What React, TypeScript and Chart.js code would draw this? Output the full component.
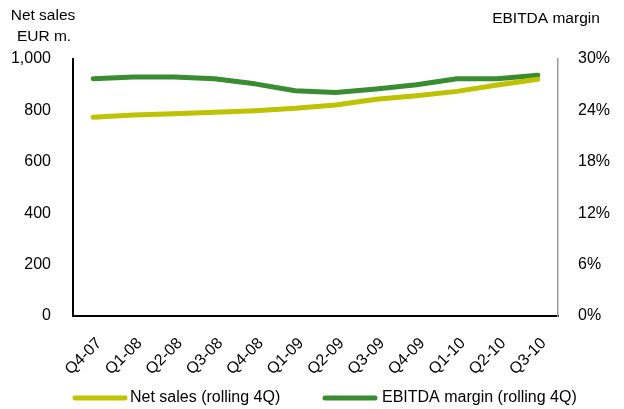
import React, { useEffect, useRef } from "react";
import { Chart, registerables } from "chart.js";

Chart.register(...registerables);

const categories = ["Q4-07", "Q1-08", "Q2-08", "Q3-08", "Q4-08", "Q1-09", "Q2-09", "Q3-09", "Q4-09", "Q1-10", "Q2-10", "Q3-10"];
const netSales = [773, 782, 787, 793, 799, 808, 821, 843, 857, 874, 899, 921];
const ebitdaMargin = [27.7, 27.9, 27.9, 27.7, 27.1, 26.3, 26.1, 26.5, 27.0, 27.7, 27.7, 28.1];
const leftTicks = [0, 200, 400, 600, 800, 1000];
const rightTicks = [0, 6, 12, 18, 24, 30];

const YELLOW = "#BDC300";
const GREEN = "#3A8C30";
const FONT = "'Liberation Sans', Arial, sans-serif";

export default function App() {
  const ref = useRef<HTMLCanvasElement | null>(null);
  useEffect(() => {
    document.body.style.margin = "0";
    const canvas = ref.current!;
    const overlay = {
      id: "overlay",
      afterDraw(chart: any) {
        const ctx = chart.ctx;
        ctx.save();
        ctx.fillStyle = "#000";
        ctx.font = `15.5px ${FONT}`;
        ctx.textBaseline = "middle";
        ctx.textAlign = "center";
        ctx.fillText("Net sales", 43, 16);
        ctx.fillText("EUR m.", 44, 37);
        ctx.fillText("EBITDA margin", 546, 19);
        // legend
        ctx.font = `16px ${FONT}`;
        ctx.lineCap = "round";
        ctx.lineWidth = 5;
        ctx.strokeStyle = YELLOW;
        ctx.beginPath();
        ctx.moveTo(75, 398);
        ctx.lineTo(125, 398);
        ctx.stroke();
        ctx.strokeStyle = GREEN;
        ctx.beginPath();
        ctx.moveTo(325, 398);
        ctx.lineTo(375, 398);
        ctx.stroke();
        ctx.textAlign = "left";
        ctx.fillText("Net sales (rolling 4Q)", 130, 398);
        ctx.fillText("EBITDA margin (rolling 4Q)", 382, 398);
        ctx.restore();
      },
    };
    const chart = new Chart(canvas, {
      type: "line",
      data: {
        labels: categories,
        datasets: [
          {
            label: "Net sales (rolling 4Q)",
            data: netSales,
            borderColor: YELLOW,
            backgroundColor: YELLOW,
            borderWidth: 5,
            pointRadius: 0,
            tension: 0,
            borderCapStyle: "round",
            borderJoinStyle: "round",
            yAxisID: "y",
          },
          {
            label: "EBITDA margin (rolling 4Q)",
            data: ebitdaMargin,
            borderColor: GREEN,
            backgroundColor: GREEN,
            borderWidth: 5,
            pointRadius: 0,
            tension: 0,
            borderCapStyle: "round",
            borderJoinStyle: "round",
            yAxisID: "y1",
          },
        ],
      },
      options: {
        responsive: false,
        animation: false,
        layout: { padding: { top: 59, bottom: 0, left: 0, right: 0 } },
        plugins: { legend: { display: false }, tooltip: { enabled: false } },
        scales: {
          x: {
            offset: true,
            grid: { display: false, drawTicks: false },
            border: { display: true, color: "#000", width: 2 },
            ticks: {
              color: "#000",
              font: { family: FONT, size: 16 },
              minRotation: 45,
              maxRotation: 45,
              padding: 18,
              labelOffset: 6,
              autoSkip: false,
            },
            afterFit(scale: any) {
              scale.height = 93;
            },
          },
          y: {
            position: "left",
            min: 0,
            max: 1000,
            afterBuildTicks(scale: any) {
              scale.ticks = leftTicks.map((v) => ({ value: v }));
            },
            grid: { display: false, drawTicks: false },
            border: { display: true, color: "#000", width: 2 },
            ticks: {
              color: "#000",
              font: { family: FONT, size: 16 },
              padding: 22,
              callback: (v: any) => Number(v).toLocaleString("en-US"),
            },
            afterFit(scale: any) {
              scale.width = 73;
            },
          },
          y1: {
            position: "right",
            min: 0,
            max: 30,
            afterBuildTicks(scale: any) {
              scale.ticks = rightTicks.map((v) => ({ value: v }));
            },
            grid: { display: false, drawTicks: false },
            border: { display: true, color: "#999", width: 1.5 },
            ticks: {
              color: "#000",
              font: { family: FONT, size: 16 },
              padding: 20,
              callback: (v: any) => `${v}%`,
            },
            afterFit(scale: any) {
              scale.width = 66;
            },
          },
        },
      },
      plugins: [overlay],
    });
    return () => chart.destroy();
  }, []);
  return <canvas ref={ref} width={624} height={409} style={{ display: "block" }} />;
}
